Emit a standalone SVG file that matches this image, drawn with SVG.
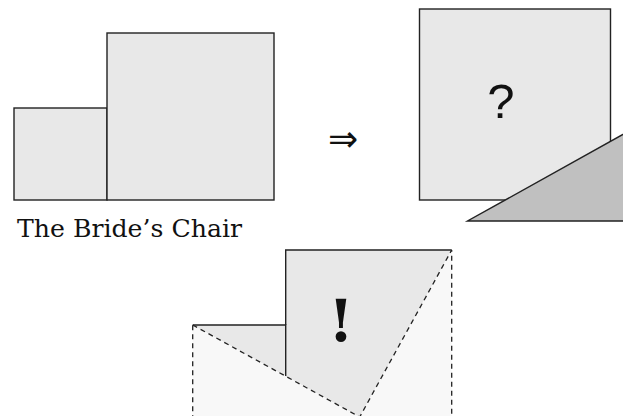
<svg xmlns="http://www.w3.org/2000/svg" width="623" height="416" viewBox="0 0 623 416">
<style>
.sq{fill:#e8e8e8;stroke:#222;stroke-width:1.4}
.tri{fill:#c0c0c0;stroke:#222;stroke-width:1.4}
.ln{fill:none;stroke:#222;stroke-width:1.4}
.light{fill:#f8f8f8;stroke:#222;stroke-width:1.3;stroke-dasharray:5 4}
.lbl{font-family:"DejaVu Serif",serif;font-size:24px;fill:#111}
.sym{font-family:"Liberation Sans",sans-serif;fill:#111}
</style>
<rect width="623" height="416" fill="#fff"/>
<g id="brides-chair">
<rect class="sq" x="14" y="108" width="93" height="92"/>
<rect class="sq" x="107" y="33" width="167" height="167"/>
<text class="lbl" x="17" y="236.5" textLength="225" lengthAdjust="spacingAndGlyphs">The Bride’s Chair</text>
</g>
<g id="implies">
<text x="343" y="151" font-family="'DejaVu Sans',sans-serif" font-size="36" fill="#111" text-anchor="middle">⇒</text>
</g>
<g id="hypotenuse-square">
<rect class="sq" x="419.5" y="9" width="191" height="191"/>
<text class="sym" x="501" y="118" font-size="49" text-anchor="middle">?</text>
<polygon class="tri" points="467.5,221 634.5,221 634.5,128"/>
</g>
<g id="rearranged">
<polygon points="192.7,325 285.7,325 285.7,250 451.7,250 359.7,417" fill="#e8e8e8"/>
<polyline class="ln" points="192.7,325 285.7,325 285.7,376.2"/>
<polyline class="ln" points="285.7,325 285.7,250 451.7,250"/>
<polygon class="light" points="192.7,325 359.7,417 451.7,250 451.7,420 192.7,420"/>
<text x="341" y="341" font-family="'DejaVu Serif',serif" font-size="58" font-weight="bold" fill="#111" text-anchor="middle">!</text>
</g>
</svg>
